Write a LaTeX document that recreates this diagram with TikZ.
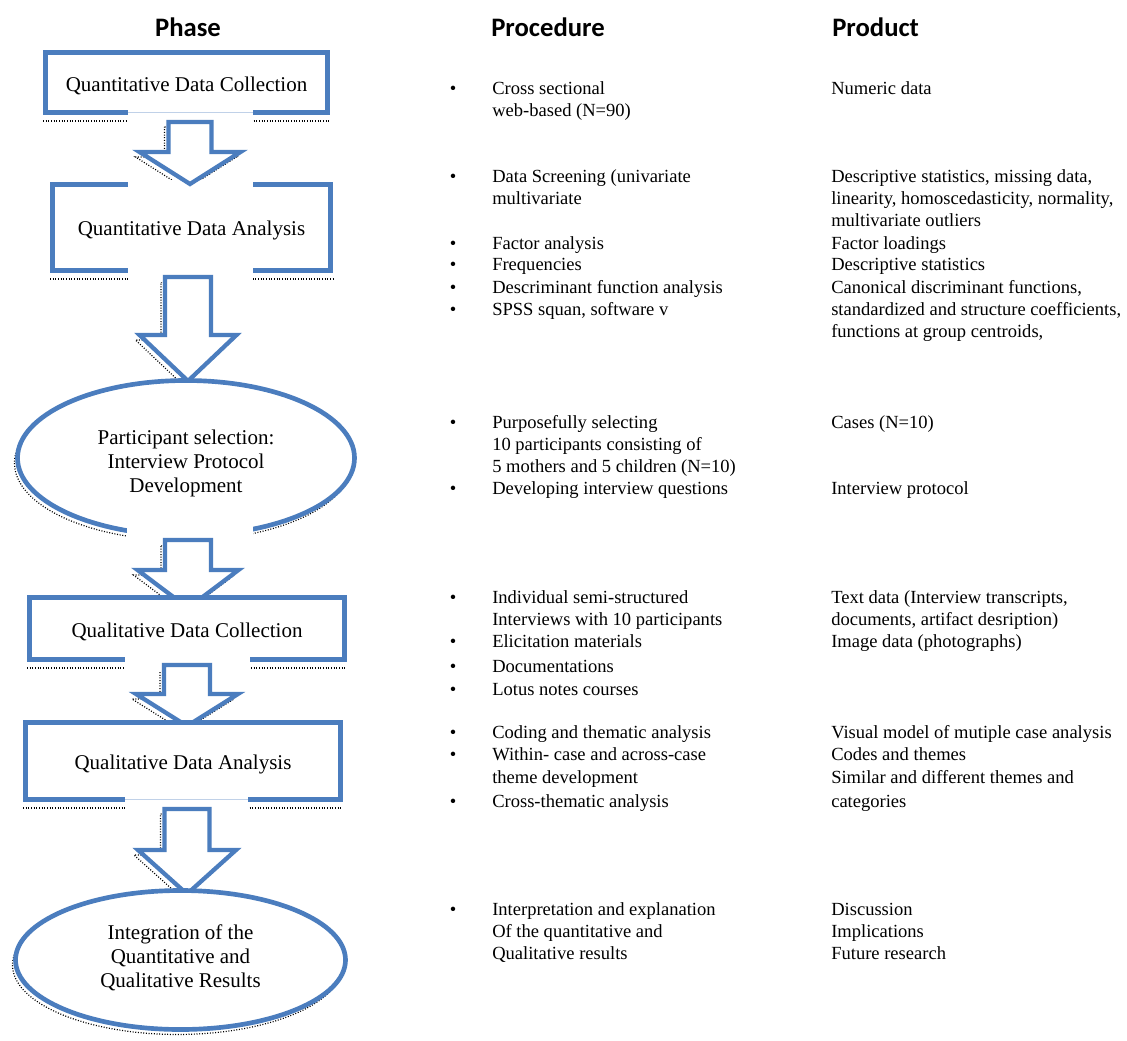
\documentclass[tikz,border=0pt]{standalone}
\usepackage{fontspec}
\setmainfont{Liberation Serif}
\newfontfamily\hdrfont{Carlito}
\usetikzlibrary{shapes.geometric}
\definecolor{shapeblue}{RGB}{75,125,190}
\newcommand\myblockarrow[7]{\draw[#1] (#2-#4,#3) -- (#2+#4,#3) -- (#2+#4,#3+#5) -- (#2+#6,#3+#5) -- (#2,#3+#7) -- (#2-#6,#3+#5) -- (#2-#4,#3+#5) -- cycle;}
\newcommand\lowertext[1]{\raisebox{-2.25pt}[\height][\depth]{#1}}
\begin{document}
\begin{tikzpicture}[x=0.75pt,y=-0.75pt,
  boxsty/.style={draw=shapeblue, line width=3.75pt, fill=white, rectangle, inner sep=0pt, font=\fontsize{15.75pt}{18pt}\selectfont},
  ellsty/.style={draw=shapeblue, line width=3.5pt, fill=white, ellipse, inner sep=0pt},
  phtext/.style={font=\fontsize{15.75pt}{18pt}\selectfont, align=center, inner sep=0pt},
  barrow/.style={draw=shapeblue, line width=3.2pt, fill=white, line join=miter},
  shadowsty/.style={draw=black, line width=0.9pt, dash pattern=on 0.75pt off 1.25pt},
  gapsty/.style={fill=white, draw=none},
  faintline/.style={draw=shapeblue!35, line width=0.6pt},
  coltext/.style={font=\fontsize{13.9pt}{16.5pt}\selectfont, inner sep=0pt, anchor=base west},
  bul/.style={font=\fontsize{13.9pt}{16.5pt}\selectfont, inner sep=0pt, anchor=base},
  hdr/.style={font=\hdrfont\bfseries\fontsize{20pt}{24pt}\selectfont, inner sep=0pt}
]
\useasboundingbox (0,0) rectangle (1127,1041);

% headers
\node[hdr] (hphase) at (188,27) {Phase};
\node[hdr, anchor=west] (hproc) at (491,27) {Procedure};
\node[hdr, anchor=west] (hprod) at (832,27) {Product};

% shadows of arrows and ellipses
\myblockarrow{shadowsty}{186}{127}{21.5}{30}{50.5}{62}
\myblockarrow{shadowsty}{184}{282}{23}{58}{48.5}{104}
\myblockarrow{shadowsty}{184}{545}{23}{30}{50.5}{68}
\myblockarrow{shadowsty}{183}{670}{23}{29}{51}{61}
\myblockarrow{shadowsty}{183}{814}{22.5}{41}{49}{85}
\draw[shadowsty] (183,463) ellipse [x radius=126.4pt, y radius=58.1pt];
\draw[shadowsty] (177.5,965) ellipse [x radius=123.75pt, y radius=52.1pt];

% box 1
\node[boxsty, minimum width=211.5pt, minimum height=45pt] (b1) at (186.5,82.5) {\lowertext{Quantitative Data Collection}};
\draw[shadowsty] ([yshift=-4.5pt]b1.south west) -- ([yshift=-4.5pt]b1.south east);
\fill[gapsty] (128,109) rectangle (253,126);
\draw[faintline] (128,112.5) -- (253,112.5);

% box 2
\node[boxsty, minimum width=208.5pt, minimum height=64.5pt] (b2) at (191.5,227.5) {\lowertext{Quantitative Data Analysis}};
\draw[shadowsty] ([yshift=-4.5pt]b2.south west) -- ([yshift=-4.5pt]b2.south east);
\fill[gapsty] (128,180) rectangle (253,189);
\fill[gapsty] (128,267) rectangle (253,282);

% arrows 1 and 2
\myblockarrow{barrow}{190}{122}{21.5}{30}{50.5}{62}
\myblockarrow{barrow}{188}{277}{23}{58}{48.5}{104}

% ellipse 1
\node[ellsty, minimum width=252.75pt, minimum height=116.25pt] (e1) at (186,458) {};
\node[phtext] (e1t) at (186,463) {Participant selection:\\ Interview Protocol\\ Development};
\fill[gapsty] (127,526) rectangle (253,545);

% arrow 3
\myblockarrow{barrow}{188}{540}{23}{30}{50.5}{68}

% box 4
\node[boxsty, minimum width=236.25pt, minimum height=46.5pt] (b4) at (187,628.5) {\lowertext{Qualitative Data Collection}};
\draw[shadowsty] ([yshift=-4.5pt]b4.south west) -- ([yshift=-4.5pt]b4.south east);
\fill[gapsty] (125,656) rectangle (250,671);

% arrow 4
\myblockarrow{barrow}{187}{665}{23}{29}{51}{61}

% box 5
\node[boxsty, minimum width=236.25pt, minimum height=57.75pt] (b5) at (183,761) {\lowertext{Qualitative Data Analysis}};
\draw[shadowsty] ([yshift=-4.5pt]b5.south west) -- ([yshift=-4.5pt]b5.south east);
\fill[gapsty] (125,796) rectangle (248,811);
\draw[faintline] (125,799.5) -- (248,799.5);

% arrow 5
\myblockarrow{barrow}{187}{809}{22.5}{41}{49}{85}

% ellipse 2
\node[ellsty, minimum width=247.5pt, minimum height=104.25pt] (e2) at (180.5,960) {};
\node[phtext] (e2t) at (180.5,958) {Integration of the\\ Quantitative and\\ Qualitative Results};

% bullets
\foreach \yy [count=\i] in {90,178,244,266,288,310,423,489,598,642,667,690,733,755,802,910}
  \node[bul] (bu\i) at (453,\yy+5) {\textbullet};

% procedure column
\foreach \yy/\txt [count=\i] in {
  90/{Cross sectional},
  112/{web-based (N=90)},
  178/{Data Screening (univariate},
  200/{multivariate},
  244/{Factor analysis},
  266/{Frequencies},
  288/{Descriminant function analysis},
  310/{SPSS squan, software v},
  423/{Purposefully selecting},
  445/{10 participants consisting of},
  467/{5 mothers and 5 children (N=10)},
  489/{Developing interview questions},
  598/{Individual semi-structured},
  620/{Interviews with 10 participants},
  642/{Elicitation materials},
  667/{Documentations},
  690/{Lotus notes courses},
  733/{Coding and thematic analysis},
  755/{Within- case and across-case},
  778/{theme development},
  802/{Cross-thematic analysis},
  910/{Interpretation and explanation},
  932/{Of the quantitative and},
  954/{Qualitative results}}
  \node[coltext] (pr\i) at (492,\yy+5) {\txt};

% product column
\foreach \yy/\txt [count=\i] in {
  90/{Numeric data},
  178/{Descriptive statistics, missing data,},
  200/{linearity, homoscedasticity, normality,},
  222/{multivariate outliers},
  244/{Factor loadings},
  266/{Descriptive statistics},
  288/{Canonical discriminant functions,},
  310/{standardized and structure coefficients,},
  332/{functions at group centroids,},
  423/{Cases (N=10)},
  489/{Interview protocol},
  598/{Text data (Interview transcripts,},
  620/{documents, artifact desription)},
  642/{Image data (photographs)},
  733/{Visual model of mutiple case analysis},
  755/{Codes and themes},
  778/{Similar and different themes and},
  802/{categories},
  910/{Discussion},
  932/{Implications},
  954/{Future research}}
  \node[coltext] (pd\i) at (831,\yy+5) {\txt};
\end{tikzpicture}
\end{document}
